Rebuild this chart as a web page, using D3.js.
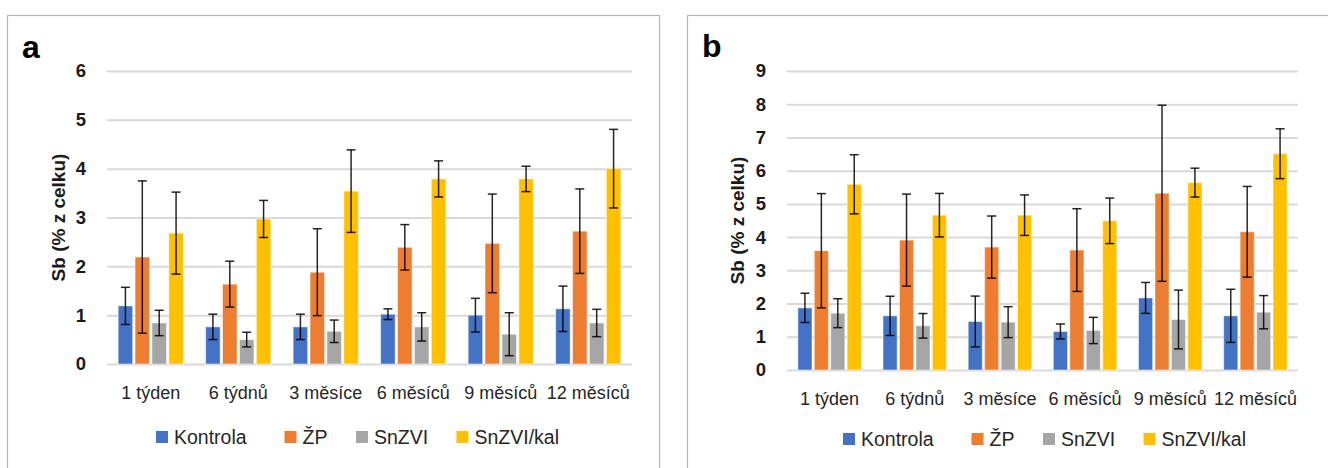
<!DOCTYPE html>
<html>
<head>
<meta charset="utf-8">
<script src="https://cdn.jsdelivr.net/npm/d3@7"></script>
<style>
  html, body { margin: 0; padding: 0; background: #fff; }
  svg { display: block; font-family: "Liberation Sans", Arial, sans-serif; }
</style>
</head>
<body>
<svg id="chart" width="1328" height="468"></svg>
<script>
// ---------- data ----------
const categories = ["1 týden", "6 týdnů", "3 měsíce", "6 měsíců", "9 měsíců", "12 měsíců"];
const seriesNames = ["Kontrola", "ŽP", "SnZVI", "SnZVI/kal"];
const seriesColors = ["#4472C4", "#ED7D31", "#A5A5A5", "#FFC000"];

// panel a
const kontrolaA = [1.19, 0.76, 0.76, 1.02, 1.00, 1.13];
const zpA       = [2.19, 1.635, 1.88, 2.39, 2.47, 2.72];
const snzviA    = [0.84, 0.50, 0.67, 0.76, 0.61, 0.84];
const snzviKalA = [2.68, 2.97, 3.54, 3.79, 3.79, 4.00];
const kontrolaErrA = [0.38, 0.26, 0.26, 0.11, 0.345, 0.465];
const zpErrA       = [1.56, 0.47, 0.89, 0.465, 1.01, 0.865];
const snzviErrA    = [0.26, 0.15, 0.23, 0.29, 0.44, 0.28];
const snzviKalErrA = [0.84, 0.38, 0.845, 0.37, 0.26, 0.805];
const yTicksA = [0, 1, 2, 3, 4, 5, 6];

// panel b
const kontrolaB = [1.87, 1.63, 1.46, 1.16, 2.17, 1.63];
const zpB       = [3.59, 3.91, 3.70, 3.61, 5.32, 4.16];
const snzviB    = [1.71, 1.33, 1.44, 1.19, 1.52, 1.74];
const snzviKalB = [5.59, 4.66, 4.66, 4.49, 5.64, 6.51];
const kontrolaErrB = [0.44, 0.59, 0.765, 0.225, 0.465, 0.80];
const zpErrB       = [1.72, 1.385, 0.935, 1.245, 2.65, 1.365];
const snzviErrB    = [0.435, 0.37, 0.465, 0.395, 0.885, 0.50];
const snzviKalErrB = [0.89, 0.655, 0.61, 0.685, 0.435, 0.75];
const yTicksB = [0, 1, 2, 3, 4, 5, 6, 7, 8, 9];

const yTitle = "Sb (% z celku)";

// ---------- layout ----------
const svg = d3.select("#chart");
const legendOffsets = [0, 128.5, 200, 300.5];

const panels = [
  {
    label: "a", frame: {x: 7.5, y: 15.5, w: 652, h: 470},
    plot: {x0: 107, x1: 632, y0: 71, y1: 364}, yMax: 6, ticks: yTicksA,
    labelPos: {x: 22, y: 58}, titleX: 58, legendX: 156, legendY: 437,
    values: [kontrolaA, zpA, snzviA, snzviKalA],
    errors: [kontrolaErrA, zpErrA, snzviErrA, snzviKalErrA]
  },
  {
    label: "b", frame: {x: 687.5, y: 15.5, w: 660, h: 470},
    plot: {x0: 787, x1: 1298, y0: 71, y1: 370}, yMax: 9, ticks: yTicksB,
    labelPos: {x: 702, y: 57}, titleX: 737, legendX: 843, legendY: 439,
    values: [kontrolaB, zpB, snzviB, snzviKalB],
    errors: [kontrolaErrB, zpErrB, snzviErrB, snzviKalErrB]
  }
];

panels.forEach(p => {
  const g = svg.append("g");

  // frame
  g.append("rect")
    .attr("x", p.frame.x).attr("y", p.frame.y)
    .attr("width", p.frame.w).attr("height", p.frame.h)
    .attr("fill", "none").attr("stroke", "#b4b4b4").attr("stroke-width", 1.2);

  const x0 = d3.scaleBand().domain(categories).range([p.plot.x0, p.plot.x1]).padding(0);
  const x1 = d3.scaleBand().domain(seriesNames).range([0, x0.bandwidth()])
    .paddingInner(0.14).paddingOuter(0.66);
  const y = d3.scaleLinear().domain([0, p.yMax]).range([p.plot.y1, p.plot.y0]);

  // y axis + gridlines
  const yAxis = d3.axisLeft(y).tickValues(p.ticks).tickFormat(d3.format("d"))
    .tickSize(-(p.plot.x1 - p.plot.x0)).tickPadding(21);
  const ya = g.append("g").attr("transform", `translate(${p.plot.x0},0)`).call(yAxis);
  ya.select(".domain").remove();
  ya.selectAll(".tick line").attr("stroke", "#d9d9d9").attr("stroke-width", 2);
  ya.selectAll(".tick text")
    .attr("fill", "#1a1a1a").attr("font-size", 18.5).attr("font-weight", "bold")
    .attr("font-family", "Liberation Sans, Arial, sans-serif");

  // x axis labels
  const xAxis = d3.axisBottom(x0).tickSize(0).tickPadding(22);
  const xa = g.append("g").attr("transform", `translate(0,${p.plot.y1})`).call(xAxis);
  xa.select(".domain").remove();
  xa.selectAll(".tick text")
    .attr("fill", "#262626").attr("font-size", 18)
    .attr("font-family", "Liberation Sans, Arial, sans-serif");

  // bars
  const data = [];
  categories.forEach((c, ci) => {
    seriesNames.forEach((s, si) => {
      data.push({c, s, si, v: p.values[si][ci], e: p.errors[si][ci]});
    });
  });

  g.append("g").selectAll("rect").data(data).join("rect")
    .attr("x", d => x0(d.c) + x1(d.s))
    .attr("y", d => y(d.v))
    .attr("width", x1.bandwidth())
    .attr("height", d => y(0) - y(d.v))
    .attr("fill", d => seriesColors[d.si])
    .attr("stroke", "#ffffff").attr("stroke-opacity", 0.5).attr("stroke-width", 1);

  // error bars
  const eg = g.append("g").attr("stroke", "#000").attr("stroke-width", 1.5).attr("stroke-opacity", 0.85);
  const cx = d => x0(d.c) + x1(d.s) + x1.bandwidth() / 2;
  eg.selectAll("line.v").data(data).join("line").attr("class", "v")
    .attr("x1", cx).attr("x2", cx)
    .attr("y1", d => y(d.v + d.e)).attr("y2", d => y(d.v - d.e));
  eg.selectAll("line.t").data(data).join("line").attr("class", "t")
    .attr("x1", d => cx(d) - 4.5).attr("x2", d => cx(d) + 4.5)
    .attr("y1", d => y(d.v + d.e)).attr("y2", d => y(d.v + d.e));
  eg.selectAll("line.b").data(data).join("line").attr("class", "b")
    .attr("x1", d => cx(d) - 4.5).attr("x2", d => cx(d) + 4.5)
    .attr("y1", d => y(d.v - d.e)).attr("y2", d => y(d.v - d.e));

  // panel label
  g.append("text").attr("x", p.labelPos.x).attr("y", p.labelPos.y)
    .attr("font-size", 32).attr("font-weight", "bold").attr("fill", "#000")
    .text(p.label);

  // y title
  const tcy = (p.plot.y0 + p.plot.y1) / 2;
  g.append("text")
    .attr("transform", `translate(${p.titleX},${tcy}) rotate(-90)`)
    .attr("text-anchor", "middle").attr("dy", "0.35em")
    .attr("font-size", 19).attr("font-weight", "bold").attr("fill", "#1a1a1a")
    .text(yTitle);

  // legend
  const lg = g.append("g").attr("transform", `translate(${p.legendX},${p.legendY})`);
  const items = lg.selectAll("g").data(seriesNames).join("g")
    .attr("transform", (d, i) => `translate(${legendOffsets[i]},0)`);
  items.append("rect").attr("width", 12).attr("height", 12).attr("y", -6)
    .attr("fill", (d, i) => seriesColors[i]);
  items.append("text").attr("x", 18).attr("dy", "0.35em")
    .attr("font-size", 19.5).attr("fill", "#262626").text(d => d);
});
</script>
</body>
</html>
